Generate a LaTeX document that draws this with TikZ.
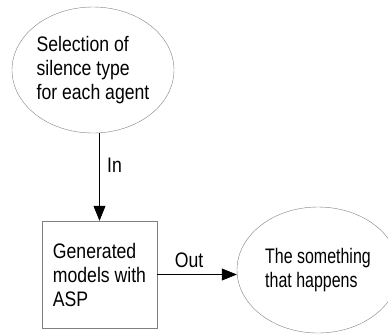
\documentclass[tikz,border=0pt]{standalone}
\usepackage{fontspec}
\setmainfont[FakeStretch=0.84]{Liberation Sans}
\newfontfamily\narrowfont[FakeStretch=0.76]{Liberation Sans}
\usetikzlibrary{arrows.meta,shapes}

\begin{document}
\begin{tikzpicture}[->,semithick,>={Triangle[length=15pt,width=12pt]},x=1pt,y=-1pt]
    \tikzstyle{txt}=[font=\fontsize{21}{24}\selectfont,text=black,align=left,inner sep=0pt]
    \tikzstyle{stage}=[txt,draw=gray,thin,ellipse,minimum width=162pt,minimum height=126pt]
    \tikzstyle{block}=[txt,draw=gray,thin,rectangle,minimum width=115pt,minimum height=107pt]
    \tikzstyle{flow}=[font=\fontsize{21}{24}\selectfont,text=black]

    \useasboundingbox (0,0) rectangle (388,333);

    \node[stage]  (sel) at (93,70)      {Selection of\\silence type\\for each agent};
    \node[block]  (gen) at (99.5,274.5) {Generated\\models with\\ASP};
    \node[stage,font=\narrowfont\fontsize{21}{24}\selectfont]
                  (hap) at (318,270)    {The something\\that happens};

    \path
     (gen.north |- sel.south) edge node[flow,right,pos=0.37,xshift=4pt] {In} (gen.north)
     (gen.east) edge node[flow,above,pos=0.4,yshift=3pt] {Out} (gen.east -| hap.west);
\end{tikzpicture}
\end{document}
